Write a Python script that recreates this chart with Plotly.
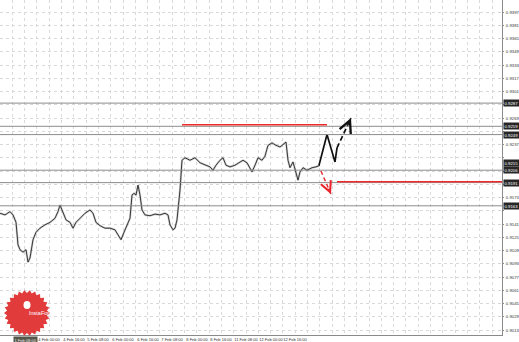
import math
import plotly.graph_objects as go

# ---------------- data ----------------
bar_x = [0, 5, 10, 13, 16, 18, 20, 23, 26, 28, 30, 33, 36, 40, 45, 50, 55, 58, 60, 63,
         66, 70, 73, 76, 80, 85, 90, 93, 96, 100, 105, 110, 115, 118, 121, 124, 127, 130,
         132, 134, 136, 138, 140, 142, 145, 150, 155, 160, 165, 168, 170, 173, 175, 177,
         179, 180, 182, 185, 190, 195, 200, 205, 210, 213, 216, 220, 223, 226, 230, 235,
         240, 243, 247, 250, 252, 255, 258, 262, 265, 268, 272, 276, 280, 284, 286, 288,
         290, 293, 296, 298, 300, 303, 307, 312, 316, 320]
close = [0.9154, 0.9152, 0.9156, 0.9152, 0.9143, 0.9116, 0.9110, 0.9107, 0.9110, 0.9095,
         0.9100, 0.9122, 0.9131, 0.9136, 0.9140, 0.9143, 0.9148, 0.9156, 0.9164, 0.9156,
         0.9146, 0.9143, 0.9136, 0.9143, 0.9148, 0.9154, 0.9158, 0.9154, 0.9143, 0.9139,
         0.9136, 0.9136, 0.9134, 0.9128, 0.9122, 0.9131, 0.9140, 0.9148, 0.9176, 0.9178,
         0.9176, 0.9188, 0.9176, 0.9158, 0.9152, 0.9151, 0.9153, 0.9152, 0.9154, 0.9152,
         0.9140, 0.9134, 0.9136, 0.9146, 0.9170, 0.9182, 0.9218, 0.9221, 0.9218, 0.9221,
         0.9215, 0.9212, 0.9210, 0.9206, 0.9212, 0.9218, 0.9221, 0.9212, 0.9210, 0.9212,
         0.9216, 0.9218, 0.9215, 0.9209, 0.9204, 0.9212, 0.9221, 0.9218, 0.9223, 0.9236,
         0.9239, 0.9236, 0.9234, 0.9238, 0.9240, 0.9218, 0.9209, 0.9216, 0.9204, 0.9194,
         0.9204, 0.9209, 0.9206, 0.9209, 0.9210, 0.9212]

up_solid_x = [319, 327, 335, 337]
up_solid_y = [0.9212, 0.9249, 0.9216, 0.9233]
up_dash_x = [337, 351]
up_dash_y = [0.9233, 0.9269]
down_dash_x = [321, 331]
down_dash_y = [0.9205, 0.9177]

gray_levels = [0.9287, 0.9259, 0.9249, 0.9206, 0.9191, 0.9163]
label_levels = [0.9287, 0.9259, 0.9249, 0.9215, 0.9206, 0.9191, 0.9163]
red_levels = [0.9261, 0.9192]
red_from = [182, 337]
red_to = [327, 502]

y_ticks = [0.9013, 0.9029, 0.9045, 0.9061, 0.9077, 0.9093, 0.9109, 0.9125, 0.9141,
           0.9157, 0.9173, 0.9189, 0.9205, 0.9221, 0.9237, 0.9253, 0.9269, 0.9285,
           0.9301, 0.9317, 0.9333, 0.9349, 0.9365, 0.9381, 0.9397]
x_tick_pos = [0, 25, 49, 74, 98, 123, 148, 172, 197, 221, 246, 271, 295]
x_tick_text = ["31 Jan 16:00", "", "4 Feb 00:00", "4 Feb 16:00", "5 Feb 08:00",
               "6 Feb 00:00", "6 Feb 16:00", "7 Feb 08:00", "8 Feb 00:00",
               "8 Feb 16:00", "11 Feb 08:00", "12 Feb 00:00", "12 Feb 16:00"]
x_box_label = "1 Feb 08:00"
x_box_pos = 25

X_RANGE = [0, 502]
Y_RANGE = [0.9007, 0.94115]

FONT = "Liberation Sans"
PLOT_H = 335

# hide regular y labels that sit under a highlighted label
px_per_unit = PLOT_H / (Y_RANGE[1] - Y_RANGE[0])
y_tick_text = []
for v in y_ticks:
    near = any(abs(v - lv) * px_per_unit < 7.5 for lv in label_levels)
    y_tick_text.append("" if near else f"{v:.4f}")

fig = go.Figure()

# price (bar-like halo + line)
fig.add_trace(go.Scatter(x=bar_x, y=close, mode="lines",
                         line=dict(color="rgba(150,150,150,0.45)", width=2.2),
                         hoverinfo="skip", showlegend=False))
fig.add_trace(go.Scatter(x=bar_x, y=close, mode="lines",
                         line=dict(color="#262626", width=0.9),
                         showlegend=False))

# forecasts
fig.add_trace(go.Scatter(x=up_solid_x, y=up_solid_y, mode="lines",
                         line=dict(color="#111111", width=1.7), showlegend=False))
fig.add_trace(go.Scatter(x=up_dash_x, y=up_dash_y, mode="lines",
                         line=dict(color="#111111", width=1.7, dash="5px,3px"),
                         showlegend=False))
fig.add_trace(go.Scatter(x=down_dash_x, y=down_dash_y, mode="lines",
                         line=dict(color="#e8262b", width=1.4, dash="4px,3px"),
                         showlegend=False))

shapes = []
for lv in gray_levels:
    shapes.append(dict(type="line", xref="paper", x0=0, x1=1, yref="y", y0=lv, y1=lv,
                       line=dict(color="#8c8c8c", width=1)))
for lv, a, b in zip(red_levels, red_from, red_to):
    shapes.append(dict(type="line", xref="x", x0=a, x1=b, yref="y", y0=lv, y1=lv,
                       line=dict(color="#ee2a2a", width=1.5)))

# InstaForex logo (decorative starburst)
n_teeth = 26
r_out, r_in = 23, 20
pts = []
for i in range(2 * n_teeth):
    r = r_out if i % 2 == 0 else r_in
    a = math.pi * i / n_teeth
    pts.append((r * math.cos(a), r * math.sin(a)))
path = "M " + " L ".join(f"{px:.2f},{py:.2f}" for px, py in pts) + " Z"
logo_cx = 27 / 502
logo_cy = 1 - 313 / PLOT_H
shapes.append(dict(type="path", xref="paper", yref="paper", xsizemode="pixel",
                   ysizemode="pixel", xanchor=logo_cx, yanchor=logo_cy, path=path,
                   fillcolor="#e23b3b", line=dict(width=0), layer="above"))
shapes.append(dict(type="circle", xref="paper", yref="paper", xsizemode="pixel",
                   ysizemode="pixel", xanchor=logo_cx, yanchor=logo_cy,
                   x0=-3.5, x1=3.5, y0=4, y1=12, fillcolor="white",
                   line=dict(width=0), layer="above"))

annotations = []
annotations.append(dict(x=up_dash_x[-1], y=up_dash_y[-1], xref="x", yref="y", text="",
                        showarrow=True, ax=-3, ay=7, arrowhead=5, arrowsize=1.4,
                        arrowwidth=1.7, arrowcolor="#111111", standoff=0))
annotations.append(dict(x=down_dash_x[-1], y=down_dash_y[-1], xref="x", yref="y", text="",
                        showarrow=True, ax=-3, ay=-7, arrowhead=5, arrowsize=1.5,
                        arrowwidth=1.4, arrowcolor="#e8262b", standoff=0))
for lv in label_levels:
    annotations.append(dict(x=1, xref="paper", y=lv, yref="y", xanchor="left",
                            xshift=1, text=f"{lv:.4f}", showarrow=False,
                            bgcolor="#262626", borderpad=0.5,
                            font=dict(family=FONT, size=4.3, color="white")))
annotations.append(dict(x=x_box_pos, xref="x", y=0, yref="paper", yanchor="top",
                        yshift=-1, text=x_box_label, showarrow=False,
                        bgcolor="#55574a", borderpad=0.5,
                        font=dict(family=FONT, size=4, color="#e8e8e8")))
annotations.append(dict(x=logo_cx, y=logo_cy, xref="paper", yref="paper", yshift=-5,
                        text="InstaForex", showarrow=False,
                        font=dict(family=FONT, size=5.5, color="white")))

fig.update_layout(
    width=519, height=342,
    margin=dict(l=0, r=17, t=0, b=7),
    paper_bgcolor="white", plot_bgcolor="white",
    shapes=shapes, annotations=annotations,
    showlegend=False,
    xaxis=dict(range=X_RANGE, tickmode="array", tickvals=x_tick_pos,
               ticktext=x_tick_text, showgrid=False, zeroline=False,
               showline=True, linecolor="#8a8a8a", linewidth=1,
               ticks="", tickangle=0, automargin=False,
               tickfont=dict(family=FONT, size=4, color="#333"),
               ticklabelstandoff=0,
               minor=dict(dtick=12.3, tick0=0, showgrid=True, gridcolor="#d9d9d9",
                          griddash="dot", gridwidth=1)),
    yaxis=dict(range=Y_RANGE, side="right", tickmode="array", tickvals=y_ticks,
               ticktext=y_tick_text, showgrid=True, automargin=False,
               gridcolor="#d9d9d9", griddash="dot", gridwidth=1, zeroline=False,
               showline=True, linecolor="#8a8a8a", linewidth=1,
               ticks="outside", ticklen=1, tickcolor="#8a8a8a",
               tickfont=dict(family=FONT, size=4.3, color="#333"),
               ticklabelstandoff=1),
)

fig.write_html("out.html")
